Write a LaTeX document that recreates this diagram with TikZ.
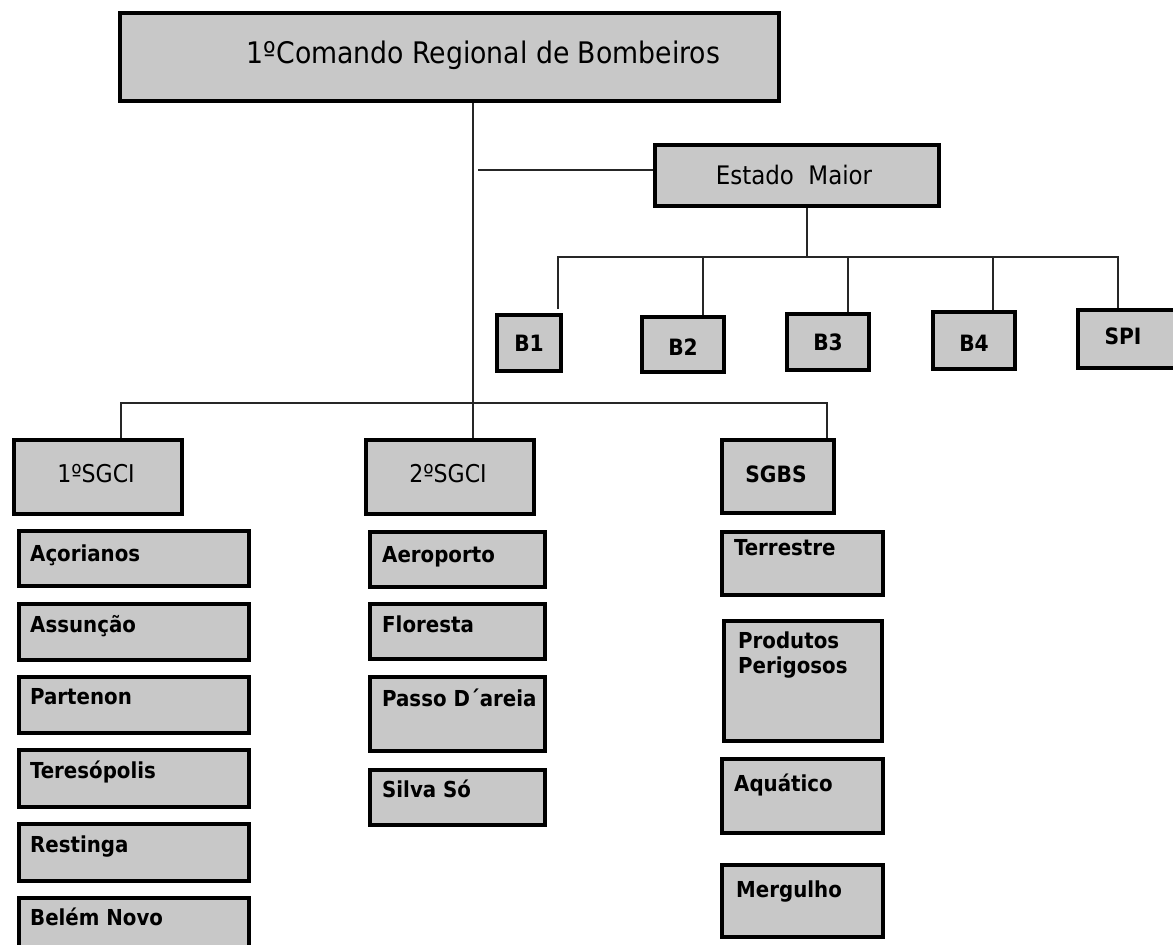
\documentclass[tikz,border=0pt]{standalone}
\usepackage{fontspec}
\setmainfont{DejaVu Sans Condensed}
\definecolor{boxgray}{HTML}{C8C8C8}
\tikzset{
  x=1pt,y=-1pt,
  orgbox/.style={draw=black,line width=4pt,fill=boxgray,anchor=north west,inner sep=0pt},
  lbl/.style={anchor=base west,inner sep=0pt,font=\fontsize{22}{26}\selectfont\bfseries},
  clbl/.style={inner sep=0pt,font=\fontsize{22.5}{26}\selectfont\bfseries},
  rlbl/.style={inner sep=0pt,font=\fontsize{24.5}{28}\selectfont},
  link/.style={line width=1.6pt,draw=black!85},
}
\begin{document}
\begin{tikzpicture}
\useasboundingbox (0,0) rectangle (1173,945);
% top
\node[orgbox,minimum width=659,minimum height=88] (top) at (118,11) {};
\node[inner sep=0pt,font=\fontsize{29.7}{34}\selectfont] at ([xshift=34pt,yshift=2pt]top.center) {1ºComando Regional de Bombeiros};
% Estado Maior
\node[orgbox,minimum width=284,minimum height=61] (em) at (653,143) {};
\node[inner sep=0pt,font=\fontsize{25.5}{29}\selectfont] at ([xshift=-3pt,yshift=1pt]em.center) {Estado\ \ Maior};
% B boxes
\node[orgbox,minimum width=64,minimum height=56] (b1) at (495,313) {};
\node[clbl] at (b1.center) {B1};
\node[orgbox,minimum width=82,minimum height=55] (b2) at (640,315) {};
\node[clbl] at ([yshift=-3pt]b2.center) {B2};
\node[orgbox,minimum width=82,minimum height=56] (b3) at (785,312) {};
\node[clbl] at (b3.center) {B3};
\node[orgbox,minimum width=82,minimum height=57] (b4) at (931,310) {};
\node[clbl] at ([yshift=-3pt]b4.center) {B4};
\node[orgbox,minimum width=110,minimum height=58] (spi) at (1076,308) {};
\node[clbl] at ([xshift=-10pt,yshift=3pt]spi.center) {SPI};
% SG boxes
\node[orgbox,minimum width=168,minimum height=74] (sg1) at (12,438) {};
\node[rlbl] at ([xshift=-2pt,yshift=3pt]sg1.center) {1ºSGCI};
\node[orgbox,minimum width=168,minimum height=74] (sg2) at (364,438) {};
\node[rlbl] at ([xshift=-2pt,yshift=3pt]sg2.center) {2ºSGCI};
\node[orgbox,minimum width=112,minimum height=73] (sgbs) at (720,438) {};
\node[clbl] at ([xshift=-2pt,yshift=2pt]sgbs.center) {SGBS};
% connectors
\coordinate (j1) at (473,403);
\draw[link] (top.south -| j1) -- (sg2.north -| j1);
\draw[link] (478,170) -- (em.west |- 0,170);
\draw[link] (em.south -| 807,0) -- (807,257);
\draw[link] (558,309) -- (558,257) -- (1118,257) -- (spi.north -| 1118,0);
\draw[link] (b2.north -| 703,0) -- (703,257);
\draw[link] (b3.north -| 848,0) -- (848,257);
\draw[link] (b4.north -| 993,0) -- (993,257);
\draw[link] (sg1.north -| 121,0) -- (121,403) -- (827,403) -- (sgbs.north -| 827,0);
% left column
\foreach \n/\y/\h/\b/\t in {c1/529/55/32/Açorianos,c2/602/56/30/Assunção,c3/675/56/29/Partenon,c4/748/57/30/Teresópolis,c5/822/57/30/Restinga,c6/896/70/29/Belém Novo}{
  \node[orgbox,minimum width=230,minimum height=\h] (\n) at (17,\y) {};
  \node[lbl] at ([xshift=13pt,yshift=-\b pt]\n.north west) {\t};
}
% middle column
\foreach \n/\y/\h/\b/\t in {m1/530/55/32/Aeroporto,m2/602/55/30/Floresta,m3/675/74/31/Passo D´areia,m4/768/55/29/Silva Só}{
  \node[orgbox,minimum width=175,minimum height=\h] (\n) at (368,\y) {};
  \node[lbl] at ([xshift=14pt,yshift=-\b pt]\n.north west) {\t};
}
% right column
\node[orgbox,minimum width=161,minimum height=63] (r1) at (720,530) {};
\node[lbl] at ([xshift=14pt,yshift=-25pt]r1.north west) {Terrestre};
\node[orgbox,minimum width=158,minimum height=120] (r2) at (722,619) {};
\node[lbl] at ([xshift=16pt,yshift=-29pt]r2.north west) {Produtos};
\node[lbl] at ([xshift=16pt,yshift=-54pt]r2.north west) {Perigosos};
\node[orgbox,minimum width=161,minimum height=74] (r3) at (720,757) {};
\node[lbl] at ([xshift=14pt,yshift=-34pt]r3.north west) {Aquático};
\node[orgbox,minimum width=161,minimum height=72] (r4) at (720,863) {};
\node[lbl] at ([xshift=16pt,yshift=-34pt]r4.north west) {Mergulho};
\end{tikzpicture}
\end{document}
